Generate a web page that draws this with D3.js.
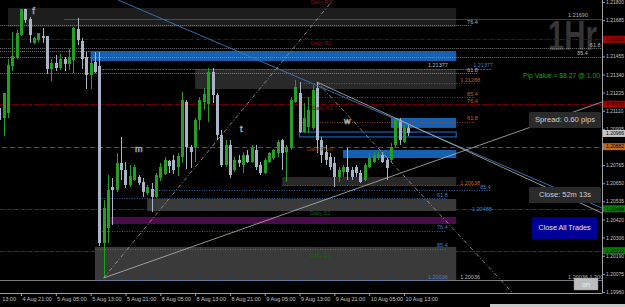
<!DOCTYPE html>
<html><head><meta charset="utf-8">
<script src="https://cdn.jsdelivr.net/npm/d3@7"></script>
<style>
html,body{margin:0;padding:0;background:#000;overflow:hidden}
svg{display:block}
text{font-family:"Liberation Sans",Arial,sans-serif}
</style></head><body>
<script>
//////////////////////////////// DATA ////////////////////////////////
var timeTicks  = [0, 8, 16, 24, 32, 40, 48, 56, 64, 72, 80, 88, 96];
// the first label is cut by the left edge of the window, only its time shows
var timeLabels = ["13:00","4 Aug 21:00","5 Aug 05:00","5 Aug 13:00","5 Aug 21:00","8 Aug 05:00",
                  "8 Aug 13:00","8 Aug 21:00","9 Aug 05:00","9 Aug 13:00","9 Aug 21:00","10 Aug 05:00","10 Aug 13:00"];
var priceTicks = [1.21800,1.21685,1.21570,1.21455,1.21340,1.21225,1.21110,1.20995,1.20880,
                  1.20765,1.20650,1.20535,1.20420,1.20306,1.20190,1.20075,1.19960];

// hourly EURUSD bars, first one is bar #3 (4 Aug 16:00)
var firstBar = 3;
var open = [1.21127,1.21064,1.21096,1.21394,1.21451,1.21591,1.21756,1.21692,1.21540,1.21559,
            1.21584,1.21584,1.21375,1.21413,1.21381,1.21438,1.21407,1.21432,1.21629,1.21553,
            1.21451,1.21337,1.21419,1.21394,1.20271,1.20366,1.20626,1.20607,1.20779,1.20734,
            1.20639,1.20671,1.20690,1.20658,1.20588,1.20614,1.20563,1.20683,1.20709,1.20791,
            1.20798,1.20753,1.20817,1.21166,1.20880,1.20880,1.21051,1.21166,1.21153,1.21356,
            1.21210,1.20956,1.20766,1.20893,1.20734,1.20798,1.20766,1.20829,1.20785,1.20861,
            1.20766,1.20715,1.20785,1.20810,1.20842,1.20924,1.20848,1.20874,1.21166,1.21223,
            1.20975,1.21007,1.21001,1.21254,1.20924,1.20848,1.20817,1.20779,1.20690,1.20721,
            1.20753,1.20734,1.20753,1.20715,1.20671,1.20753,1.20785,1.20810,1.20829,1.20798,
            1.20798,1.20893,1.21051,1.20912,1.21001];
var high = [1.21191,1.21223,1.21438,1.21610,1.21622,1.21756,1.21756,1.21705,1.21578,1.21603,
            1.21635,1.21584,1.21438,1.21464,1.21470,1.21451,1.21502,1.21641,1.21699,1.21572,
            1.21483,1.21445,1.21483,1.21483,1.20544,1.20702,1.20683,1.20842,1.20944,1.20785,
            1.20766,1.20766,1.20702,1.20683,1.20639,1.20652,1.20715,1.20779,1.20817,1.20798,
            1.20829,1.20842,1.21229,1.21178,1.20893,1.21064,1.21197,1.21254,1.21381,1.21381,
            1.21223,1.20988,1.20924,1.20924,1.20817,1.20829,1.20848,1.20861,1.20893,1.20893,
            1.20785,1.20810,1.20848,1.20867,1.20924,1.20931,1.20893,1.21197,1.21305,1.21292,
            1.21159,1.21197,1.21273,1.21292,1.20944,1.20893,1.20842,1.20817,1.20753,1.20766,
            1.20874,1.20753,1.20766,1.20734,1.20779,1.20842,1.20848,1.20848,1.20848,1.20810,
            1.20905,1.21064,1.21064,1.21020,1.21020];
var low  = [1.20893,1.20950,1.21064,1.21362,1.21438,1.21584,1.21667,1.21540,1.21534,1.21546,
            1.21540,1.21343,1.21299,1.21362,1.21369,1.21362,1.21369,1.21350,1.21527,1.21375,
            1.21248,1.21248,1.21350,1.20252,1.20049,1.20271,1.20385,1.20595,1.20671,1.20620,
            1.20626,1.20664,1.20639,1.20563,1.20576,1.20468,1.20556,1.20664,1.20702,1.20715,
            1.20709,1.20696,1.20779,1.20740,1.20747,1.20785,1.20988,1.21115,1.21039,1.21159,
            1.20924,1.20753,1.20753,1.20683,1.20721,1.20753,1.20715,1.20779,1.20779,1.20734,
            1.20702,1.20709,1.20779,1.20798,1.20817,1.20734,1.20658,1.20861,1.21159,1.20969,
            1.20969,1.20969,1.20988,1.20842,1.20779,1.20766,1.20734,1.20626,1.20658,1.20690,
            1.20671,1.20671,1.20690,1.20652,1.20664,1.20747,1.20779,1.20798,1.20779,1.20671,
            1.20785,1.20880,1.20893,1.20905,1.20950];
var close = [1.21051,1.21223,1.21400,1.21457,1.21603,1.21756,1.21686,1.21591,1.21572,1.21603,
            1.21572,1.21375,1.21413,1.21381,1.21438,1.21407,1.21451,1.21635,1.21559,1.21438,
            1.21337,1.21413,1.21356,1.20271,1.20493,1.20607,1.20607,1.20779,1.20734,1.20639,
            1.20696,1.20753,1.20652,1.20595,1.20626,1.20563,1.20702,1.20753,1.20798,1.20759,
            1.20734,1.20823,1.21178,1.20880,1.20848,1.21051,1.21178,1.21216,1.21356,1.21210,
            1.20956,1.20766,1.20893,1.20702,1.20798,1.20779,1.20829,1.20785,1.20880,1.20753,
            1.20715,1.20798,1.20842,1.20861,1.20912,1.20842,1.20880,1.21178,1.21261,1.20975,
            1.21064,1.21115,1.21242,1.20924,1.20829,1.20798,1.20753,1.20690,1.20734,1.20753,
            1.20721,1.20690,1.20715,1.20658,1.20766,1.20810,1.20829,1.20836,1.20785,1.20747,
            1.20880,1.21051,1.20924,1.21001,1.20969];

// supply / demand zones: [fromBar, toBar, top, bottom, kind]
var zones = [
  [5,    108, 1.21762, 1.21641, "dark"],
  [24,   108, 1.21489, 1.21426, "blue"],
  [48,   108, 1.21375, 1.21248, "mid"],
  [93,   108, 1.21064, 1.21001, "blue"],
  [72,   108, 1.20975, 1.20944, "outline"],
  [82,   108, 1.20861, 1.20810, "blue"],
  [68,   108, 1.20690, 1.20633, "mid"],
  [37,   108, 1.20550, 1.20474, "light"],
  [28.5, 108, 1.20436, 1.20391, "purple"],
  [25,   108, 1.20246, 1.20036, "light"]
];

// horizontal levels: [price, fromBar, toBar, kind]
var levels = [
  [1.21690, 18, 142, "wdot"],
  [1.21654, 0, 111.6, "wdot"],
  [1.21563, 0, 142, "red"],
  [1.21508, 0, 142, "wdot"],
  [1.21489, 0, 24, "wdot"],
  [1.21451, 0, 142, "wdot"],
  [1.21377, 26, 116, "bdash"],
  [1.21350, 0, 112.8, "wdot"],
  [1.21288, 73, 112.3, "odot"],
  [1.21197, 72, 112.3, "odot"],
  [1.21152, 0, 142, "red"],
  [1.21039, 72, 112.3, "odot"],
  [1.20882, 0, 142, "pivot"],
  [1.20638, 68, 112.3, "odot"],
  [1.20607, 38, 116, "bdot"],
  [1.20556, 26, 105.6, "bdot"],
  [1.20488, 0, 142, "green"],
  [1.20347, 26, 105.6, "bdot"],
  [1.20233, 25, 105.6, "bdot"],
  [1.20222, 0, 142, "green"],
  [1.20036, 0, 142, "grey"],
  [1.20036, 25, 105.6, "bdot"]
];

// trend lines: [bar1, price1, bar2, price2, kind]
var trendlines = [
  [30.3, 1.21813, 141.5, 1.20493, "blue"],
  [76,   1.21292, 141.5, 1.20461, "white"],
  [27,   1.20049, 141.5, 1.21166, "white"],
  [27,   1.20049, 79.7,  1.21813, "dash"],
  [76,   1.21292, 121,   1.19953, "dash"]
];

// level captions: [text, bar, price, kind]
var captions = [
  ["1.21690", 133.7, 1.21705, "w"],
  ["76.4", 110.5, 1.21660, "w"],
  ["61.8", 138.7, 1.21515, "w"],
  ["85.4", 135.8, 1.21464, "w"],
  ["1.21377", 101.5, 1.21388, "w"],
  ["1.21377", 111.9, 1.21388, "b"],
  ["61.8", 110.5, 1.21356, "w"],
  ["1.21288", 108.9, 1.21292, "o"],
  ["85.4", 110.5, 1.21204, "o"],
  ["76.4", 110.5, 1.21159, "o"],
  ["61.8", 110.5, 1.21051, "o"],
  ["1.20638", 108.9, 1.20639, "o"],
  ["85.4", 113.5, 1.20614, "b"],
  ["61.8", 103.6, 1.20563, "b"],
  ["1.20488", 111.6, 1.20474, "b"],
  ["76.4", 103.6, 1.20360, "b"],
  ["85.4", 103.6, 1.20246, "b"],
  ["1.20036", 101.5, 1.20042, "b"],
  ["1.20036", 108.9, 1.20042, "w"],
  ["1.20036 1.20043", 133.7, 1.20042, "w"],
  ["Daily R3", 74.6, 1.21787, "r"],
  ["Daily R2", 74.6, 1.21527, "r"],
  ["Daily R1", 74.9, 1.21115, "r"],
  ["Daily Pivot", 73.7, 1.20855, "p"],
  ["Daily S1", 74.4, 1.20449, "g"],
  ["Daily S2", 74.4, 1.20182, "g"]
];

// wave letters: [text, bar, price]
var waves = [["f", 10.6, 1.21727], ["m", 34.2, 1.20848], ["t", 58.3, 1.20975], ["w", 82.2, 1.21026]];

// price tags on the right scale: [price, kind]
var tags = [[1.21563, "red"], [1.21152, "red"], [1.20966, "bid"], [1.20882, "pivot"], [1.20488, "green"], [1.20222, "green"]];

//////////////////////////////// SETUP ////////////////////////////////
var width = 625, height = 307,
    plotW = 602, plotH = 293;

var x = d3.scaleLinear().domain([0, 96]).range([-13.8, 404]);
var y = d3.scaleLinear().domain([1.19960, 1.21800]).range([292, 2]);

var svg = d3.select("body").append("svg")
    .attr("width", width)
    .attr("height", height)
    .style("background", "#000");

svg.append("clipPath").attr("id", "plot")
  .append("rect").attr("width", plotW).attr("height", plotH);

var zoneFill = {dark: "#1d1d1d", mid: "#292929", light: "#3a3a3a", blue: "#1660b2", purple: "#4a0c4a"};
var lineStyle = {
  wdot:  ["#9a9a9a", "1,1", 0.8],
  red:   ["#8b0000", "4,1,1,1", 0.9],
  bdash: ["#3d7fcc", "2,1", 0.8],
  bdot:  ["#3d7fcc", "1,1.5", 0.8],
  odot:  ["#a8561c", "1,1.5", 0.8],
  pivot: ["#8b4513", "5,3", 1],
  green: ["#006400", "4,1,1,1", 0.9],
  grey:  ["#9a9a9a", null, 0.8]
};
var trendStyle = {blue: ["#3a78b8", null, 0.9], white: ["#b8b8b8", null, 0.8], dash: ["#a0a0a0", "4,2,1,2", 0.8]};
var captionColor = {w: "#b4b4b4", b: "#3d7fcc", o: "#c0651f", r: "#8b1010", p: "#8b4513", g: "#0a6a0a"};
var tagStyle = {red: ["#a00000", "#200"], bid: ["#c4c4c4", "#000"], pivot: ["#c06a20", "#000"], green: ["#008000", "#000"]};

var plot = svg.append("g").attr("clip-path", "url(#plot)");

// big timeframe watermark
plot.append("text")
    .attr("x", 548).attr("y", 50)
    .attr("textLength", 49).attr("lengthAdjust", "spacingAndGlyphs")
    .attr("font-size", 42).attr("font-weight", "bold")
    .attr("fill", "#353535")
    .text("1Hr");

//////////////////////////////// ZONES ////////////////////////////////
plot.selectAll("rect.zone")
    .data(zones)
    .enter().append("rect")
    .attr("class", "zone")
    .attr("x", function (d) { return x(d[0]); })
    .attr("y", function (d) { return y(d[2]); })
    .attr("width", function (d) { return x(d[1]) - x(d[0]); })
    .attr("height", function (d) { return y(d[3]) - y(d[2]); })
    .attr("fill", function (d) { return d[4] == "outline" ? "none" : zoneFill[d[4]]; })
    .attr("stroke", function (d) { return d[4] == "outline" ? "#1f5fae" : "none"; })
    .attr("stroke-width", 1.2);

//////////////////////////////// LEVELS ////////////////////////////////
plot.selectAll("line.level")
    .data(levels)
    .enter().append("line")
    .attr("class", "level")
    .attr("x1", function (d) { return x(d[1]); })
    .attr("x2", function (d) { return x(d[2]); })
    .attr("y1", function (d) { return Math.round(y(d[0])) + 0.5; })
    .attr("y2", function (d) { return Math.round(y(d[0])) + 0.5; })
    .attr("stroke", function (d) { return lineStyle[d[3]][0]; })
    .attr("stroke-dasharray", function (d) { return lineStyle[d[3]][1]; })
    .attr("stroke-width", function (d) { return lineStyle[d[3]][2]; });

//////////////////////////////// CANDLES ////////////////////////////////
var bars = open.map(function (o, i) {
  return {i: i + firstBar, o: o, h: high[i], l: low[i], c: close[i]};
});
var candle = plot.selectAll("g.candle")
    .data(bars)
    .enter().append("g")
    .attr("class", "candle");
function candleColor(d) { return d.c >= d.o ? "#22a022" : "#a9b5c6"; }
candle.append("line")
    .attr("x1", function (d) { return Math.round(x(d.i)) + 0.5; })
    .attr("x2", function (d) { return Math.round(x(d.i)) + 0.5; })
    .attr("y1", function (d) { return y(d.h); })
    .attr("y2", function (d) { return y(d.l); })
    .attr("stroke", candleColor)
    .attr("stroke-width", 1);
candle.append("rect")
    .attr("x", function (d) { return Math.round(x(d.i)) - 1; })
    .attr("width", 3)
    .attr("y", function (d) { return y(Math.max(d.o, d.c)); })
    .attr("height", function (d) { return Math.max(1, Math.abs(y(d.o) - y(d.c))); })
    .attr("fill", candleColor);

//////////////////////////////// TRENDLINES ////////////////////////////////
plot.selectAll("line.trend")
    .data(trendlines)
    .enter().append("line")
    .attr("class", "trend")
    .attr("x1", function (d) { return x(d[0]); })
    .attr("y1", function (d) { return y(d[1]); })
    .attr("x2", function (d) { return x(d[2]); })
    .attr("y2", function (d) { return y(d[3]); })
    .attr("stroke", function (d) { return trendStyle[d[4]][0]; })
    .attr("stroke-dasharray", function (d) { return trendStyle[d[4]][1]; })
    .attr("stroke-width", function (d) { return trendStyle[d[4]][2]; });

//////////////////////////////// CAPTIONS ////////////////////////////////
plot.selectAll("text.caption")
    .data(captions)
    .enter().append("text")
    .attr("class", "caption")
    .attr("x", function (d) { return x(d[1]); })
    .attr("y", function (d) { return y(d[2]); })
    .attr("font-size", 5.5)
    .attr("fill", function (d) { return captionColor[d[3]]; })
    .text(function (d) { return d[0]; });

plot.selectAll("text.wave")
    .data(waves)
    .enter().append("text")
    .attr("class", "wave")
    .attr("x", function (d) { return x(d[1]); })
    .attr("y", function (d) { return y(d[2]); })
    .attr("font-family", "DejaVu Sans")
    .attr("font-size", 9)
    .attr("fill", "#111")
    .attr("stroke", "#b0b0b0")
    .attr("stroke-width", 0.6)
    .text(function (d) { return d[0]; });

//////////////////////////////// PANELS ////////////////////////////////
plot.append("text")
    .attr("x", 523).attr("y", 78)
    .attr("font-size", 7).attr("fill", "#1fa01f")
    .attr("textLength", 77).attr("lengthAdjust", "spacingAndGlyphs")
    .text("Pip Value = $8.27 @ 1.00");

function panel(px, py, w, h, fill, txt, color, tl) {
  plot.append("rect").attr("x", px).attr("y", py).attr("width", w).attr("height", h)
      .attr("rx", 1.5).attr("fill", fill);
  plot.append("text").attr("x", px + w / 2).attr("y", py + h / 2 + 2.4)
      .attr("text-anchor", "middle").attr("font-size", 7).attr("fill", color)
      .attr("textLength", tl).attr("lengthAdjust", "spacingAndGlyphs")
      .text(txt);
}
panel(529, 112, 72, 16, "#2a2a2a", "Spread: 0.60 pips", "#d0d0d0", 60);
panel(529, 187, 72, 16, "#2a2a2a", "Close: 52m 13s", "#d0d0d0", 52);
panel(532, 217, 65, 22, "#000096", "Close All Trades", "#e8e8e8", 52);
plot.append("rect").attr("x", 574).attr("y", 278).attr("width", 24).attr("height", 12)
    .attr("fill", "#bdbdbd").attr("stroke", "#888").attr("stroke-width", 0.5);
plot.append("text").attr("x", 586).attr("y", 287).attr("text-anchor", "middle")
    .attr("font-size", 7).attr("fill", "#eee").text("on");

//////////////////////////////// AXES ////////////////////////////////
var yAxis = d3.axisRight(y)
    .tickValues(priceTicks)
    .tickFormat(d3.format(".5f"))
    .tickSize(3).tickPadding(1);
var gy = svg.append("g").attr("transform", "translate(" + plotW + ",0)").call(yAxis);
gy.select(".domain").remove();
gy.selectAll("line").attr("stroke", "#a0a0a0");
gy.selectAll("text").attr("font-size", 5).attr("fill", "#c0c0c0");

var xAxis = d3.axisBottom(x)
    .tickValues(timeTicks)
    .tickFormat(function (d, i) { return timeLabels[i]; })
    .tickSize(3).tickPadding(1);
var gx = svg.append("g").attr("transform", "translate(0," + plotH + ")").call(xAxis);
gx.select(".domain").remove();
gx.selectAll("line").attr("stroke", "#a0a0a0");
gx.selectAll("text").attr("font-size", 5.5).attr("fill", "#c0c0c0")
    .attr("text-anchor", "start").attr("dx", 1);
// the clipped first label sits at the window edge
gx.selectAll(".tick").filter(function (d) { return d == 0; }).select("text")
    .attr("dx", 15.5);

svg.append("line").attr("x1", plotW + 0.5).attr("x2", plotW + 0.5).attr("y1", 0).attr("y2", plotH + 0.5)
    .attr("stroke", "#a0a0a0");
svg.append("line").attr("x1", 0).attr("x2", plotW).attr("y1", plotH + 0.5).attr("y2", plotH + 0.5)
    .attr("stroke", "#a0a0a0");

// price tags
var tag = svg.selectAll("g.tag")
    .data(tags)
    .enter().append("g")
    .attr("class", "tag")
    .attr("transform", function (d) { return "translate(" + (plotW + 1) + "," + y(d[0]) + ")"; });
tag.append("rect")
    .attr("x", 0).attr("y", -3.5).attr("width", 22).attr("height", 7)
    .attr("fill", function (d) { return tagStyle[d[1]][0]; });
tag.append("text")
    .attr("x", 3).attr("y", 1.8)
    .attr("font-size", 5).attr("fill", function (d) { return tagStyle[d[1]][1]; })
    .text(function (d) { return d3.format(".5f")(d[0]); });

// scrollbar strip at the bottom
svg.append("rect").attr("x", 490).attr("y", 304).attr("width", 135).attr("height", 3).attr("fill", "#c8c8c8");
</script>
</body></html>
